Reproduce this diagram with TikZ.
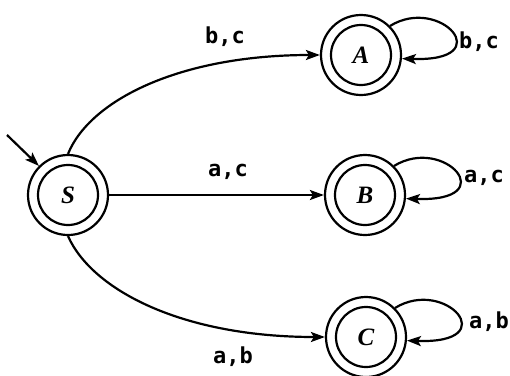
\documentclass[tikz,border=0pt]{standalone}
\usepackage{fontspec}
\setmainfont{Liberation Serif}
\newfontfamily\lblfont{DejaVu Sans Mono}
\usetikzlibrary{arrows.meta,calc}
\begin{document}
\begin{tikzpicture}[x=1pt,y=-1pt,line width=2.2pt,
  state/.style={circle,draw,minimum size=80pt,inner sep=0pt,
    font=\fontsize{25}{25}\selectfont\bfseries\itshape,
    path picture={\draw[line width=2.2pt] (path picture bounding box.center) circle (30pt);}},
  arr/.style={-{Stealth[length=14pt,width=10pt,inset=3pt]}},
  lbl/.style={font=\lblfont\bfseries\fontsize{22}{22}\selectfont,inner sep=0pt}]
\useasboundingbox (0,0) rectangle (510,375);
\node[state] (S) at (68,195) {S};
\node[state] (A) at (361,55) {A};
\node[state] (B) at (365,195) {B};
\node[state] (C) at (366,337) {C};
\coordinate (init) at (7,135);
\draw[arr] (init) -- (S.135);
\draw[arr] (S.north) .. controls (90,100) and (180,55) .. (A.west);
\draw[arr] (S) -- (B);
\draw[arr] (S.south) .. controls (92,290) and (182,337) .. (C.west);
\draw[arr] (A.45) .. controls ($(A)+(79,-60)$) and ($(A)+(139,7)$) .. (A.-5);
\draw[arr] (B.45) .. controls ($(B)+(79,-60)$) and ($(B)+(139,7)$) .. (B.-5);
\draw[arr] (C.45) .. controls ($(C)+(79,-60)$) and ($(C)+(139,7)$) .. (C.-5);
\node[lbl] (lsa) at (225,37) {b,c};
\node[lbl] (lsb) at (228,172) {a,c};
\node[lbl] (lsc) at (233,357) {a,b};
\node[lbl] (laa) at (479,42) {b,c};
\node[lbl] (lbb) at (484,178) {a,c};
\node[lbl] (lcc) at (489,322) {a,b};
\end{tikzpicture}
\end{document}
